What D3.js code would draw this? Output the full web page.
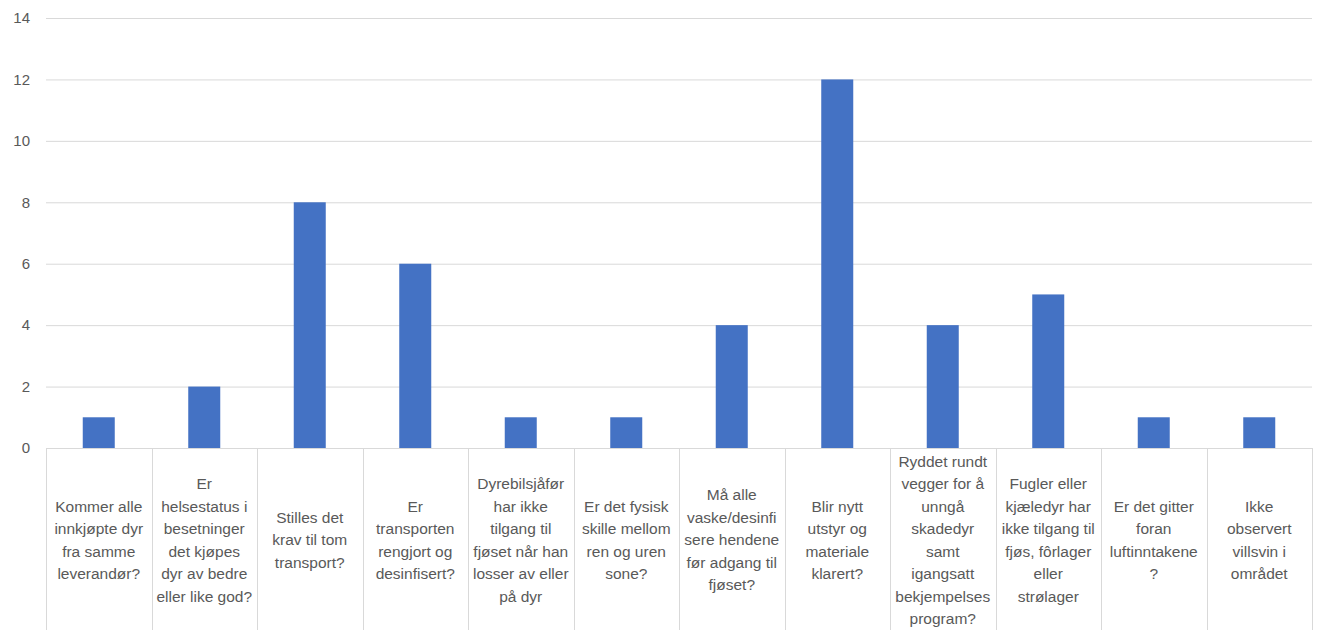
<!DOCTYPE html>
<html>
<head>
<meta charset="utf-8">
<script src="https://cdn.jsdelivr.net/npm/d3@7"></script>
<style>
  body { margin: 0; background: #fff; }
  text { font-family: "Liberation Sans", Arial, sans-serif; fill: #595959; }
</style>
</head>
<body>
<svg id="graphic"></svg>
<script>

// Category labels, one entry per line as wrapped in the original
const labels = [
    ["Kommer alle", "innkjøpte dyr", "fra samme", "leverandør?"],
    ["Er", "helsestatus i", "besetninger", "det kjøpes", "dyr av bedre", "eller like god?"],
    ["Stilles det", "krav til tom", "transport?"],
    ["Er", "transporten", "rengjort og", "desinfisert?"],
    ["Dyrebilsjåfør", "har ikke", "tilgang til", "fjøset når han", "losser av eller", "på dyr"],
    ["Er det fysisk", "skille mellom", "ren og uren", "sone?"],
    ["Må alle", "vaske/desinfi", "sere hendene", "før adgang til", "fjøset?"],
    ["Blir nytt", "utstyr og", "materiale", "klarert?"],
    ["Ryddet rundt", "vegger for å", "unngå", "skadedyr", "samt", "igangsatt", "bekjempelses", "program?"],
    ["Fugler eller", "kjæledyr har", "ikke tilgang til", "fjøs, fôrlager", "eller", "strølager"],
    ["Er det gitter", "foran", "luftinntakene", "?"],
    ["Ikke", "observert", "villsvin i", "området"]
]
const values = [1, 2, 8, 6, 1, 1, 4, 12, 4, 5, 1, 1]
const yTicks = [0, 2, 4, 6, 8, 10, 12, 14]

const w = 1318
const h = 630
const plotLeft = 46
const plotRight = 1312
const plotTop = 18
const baseline = 448

const graphic = d3.select("#graphic")
    .attr("width", w)
    .attr("height", h)

const ids = labels.map((d, i) => i)

const xScale = d3.scaleBand()
    .domain(ids)
    .range([plotLeft, plotRight])
    .paddingInner(0)

const yScale = d3.scaleLinear()
    .domain([0, 14])
    .range([baseline, plotTop])

// gridlines
graphic.append("g")
    .selectAll("line")
    .data(yTicks)
    .enter()
    .append("line")
    .attr("x1", plotLeft)
    .attr("x2", plotRight)
    .attr("y1", d => yScale(d) + 0.5)
    .attr("y2", d => yScale(d) + 0.5)
    .attr("stroke", "#d9d9d9")
    .attr("stroke-width", 1)

// y labels
graphic.append("g")
    .selectAll("text")
    .data(yTicks)
    .enter()
    .append("text")
    .attr("x", 30)
    .attr("y", d => yScale(d))
    .attr("dy", "0.35em")
    .attr("text-anchor", "end")
    .style("font-size", "15px")
    .text(d => d)

// bars
const barW = 32
graphic.append("g")
    .selectAll("rect")
    .data(values)
    .enter()
    .append("rect")
    .attr("x", (d, i) => xScale(i) + xScale.bandwidth() / 2 - barW / 2)
    .attr("width", barW)
    .attr("y", d => yScale(d))
    .attr("height", d => yScale(0) - yScale(d))
    .attr("fill", "#4472c4")

// category cell borders
const edges = ids.map(i => xScale(i)).concat([plotRight])
graphic.append("g")
    .selectAll("line")
    .data(edges)
    .enter()
    .append("line")
    .attr("x1", d => Math.round(d) + 0.5)
    .attr("x2", d => Math.round(d) + 0.5)
    .attr("y1", baseline)
    .attr("y2", h)
    .attr("stroke", "#d9d9d9")
    .attr("stroke-width", 1)

// category labels
const lineH = 22.5
const midY = 540
const catG = graphic.append("g")
    .selectAll("text")
    .data(labels)
    .enter()
    .append("text")
    .attr("text-anchor", "middle")
    .style("font-size", "15.5px")
    .attr("transform", (d, i) => `translate(${xScale(i) + xScale.bandwidth() / 2}, ${midY})`)

catG.selectAll("tspan")
    .data(d => d.map((t, j) => ({ t, j, n: d.length })))
    .enter()
    .append("tspan")
    .attr("x", 0)
    .attr("y", d => (d.j - (d.n - 1) / 2) * lineH)
    .attr("dy", "0.35em")
    .text(d => d.t)

</script>
</body>
</html>
